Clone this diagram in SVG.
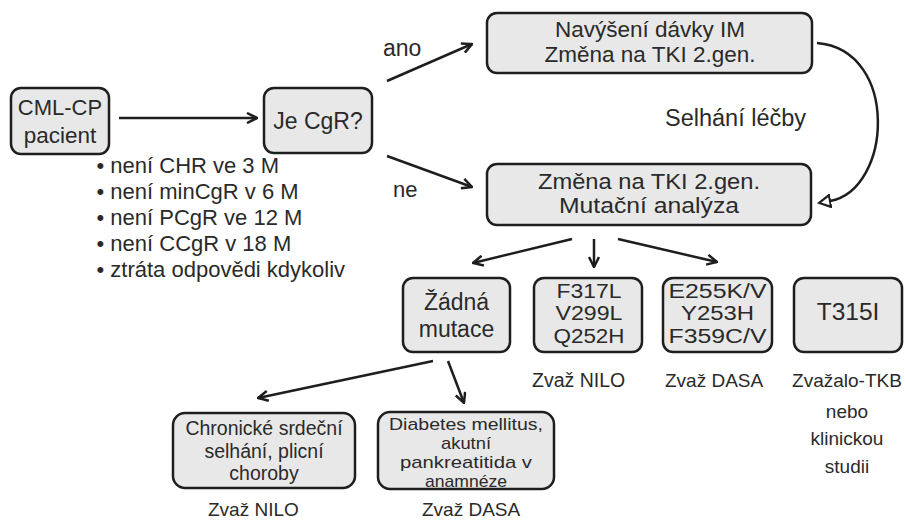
<svg xmlns="http://www.w3.org/2000/svg" width="905" height="520" viewBox="0 0 905 520">
<style>
text{font-family:"Liberation Sans",Arial,sans-serif;fill:#2a2a2a}
.box{fill:#e8e8e8;stroke:#1e1e1e;stroke-width:2.5}
.c{text-anchor:middle}
.ln{fill:none;stroke:#1e1e1e;stroke-width:2.5}
</style>
<defs>
<marker id="arr" viewBox="0 0 12 12" refX="11" refY="6" markerWidth="12" markerHeight="12" markerUnits="userSpaceOnUse" orient="auto"><path d="M1,1 L11,6 L1,11" fill="none" stroke="#1e1e1e" stroke-width="2.5"/></marker>
<marker id="tri" viewBox="0 0 14 14" refX="1" refY="7" markerWidth="14" markerHeight="14" markerUnits="userSpaceOnUse" orient="auto"><path d="M1,1 L12,7 L1,13 Z" fill="#fff" stroke="#1e1e1e" stroke-width="2.2"/></marker>
</defs>
<rect width="905" height="520" fill="#fff"/>
<g id="connectors">
<line class="ln" x1="119" y1="118" x2="257" y2="118" marker-end="url(#arr)"/>
<line class="ln" x1="387" y1="81" x2="472" y2="44" marker-end="url(#arr)"/>
<line class="ln" x1="387" y1="156" x2="472" y2="187" marker-end="url(#arr)"/>
<path class="ln" d="M817,43 C900,50 892,190 830,201" marker-end="url(#tri)"/>
<line class="ln" x1="572" y1="239" x2="473" y2="263" marker-end="url(#arr)"/>
<line class="ln" x1="594" y1="239" x2="594" y2="267" marker-end="url(#arr)"/>
<line class="ln" x1="618" y1="239" x2="717" y2="262" marker-end="url(#arr)"/>
<line class="ln" x1="433" y1="361" x2="258" y2="398" marker-end="url(#arr)"/>
<line class="ln" x1="448" y1="361" x2="464" y2="403" marker-end="url(#arr)"/>
</g>
<g id="labels">
<text x="383" y="56" font-size="23">ano</text>
<text x="393" y="197" font-size="22">ne</text>
<text x="665" y="126" font-size="23.5">Selhání léčby</text>
</g>
<g id="n-cml">
<rect class="box" x="11" y="88" width="98" height="66" rx="10"/>
<text class="c" x="60" y="115" font-size="22">CML-CP</text>
<text class="c" x="60" y="143" font-size="22.5">pacient</text>
</g>
<g id="n-criteria">
<text x="96.5" y="173" font-size="22">• není CHR ve 3 M</text>
<text x="96.5" y="199" font-size="22">• není minCgR v 6 M</text>
<text x="96.5" y="225" font-size="22">• není PCgR ve 12 M</text>
<text x="96.5" y="251" font-size="22">• není CCgR v 18 M</text>
<text x="96.5" y="277" font-size="22">• ztráta odpovědi kdykoliv</text>
</g>
<g id="n-cgr">
<rect class="box" x="264" y="88" width="108" height="65" rx="10"/>
<text class="c" x="318" y="129" font-size="23">Je CgR?</text>
</g>
<g id="n-navyseni">
<rect class="box" x="487" y="13" width="325" height="60" rx="10"/>
<text class="c" x="650" y="36.5" font-size="22.5">Navýšení dávky IM</text>
<text class="c" x="650" y="62" font-size="22.5">Změna na TKI 2.gen.</text>
</g>
<g id="n-zmena">
<rect class="box" x="487" y="164" width="324" height="61" rx="10"/>
<text class="c" x="649" y="189" font-size="21.5" textLength="222" lengthAdjust="spacingAndGlyphs">Změna na TKI 2.gen.</text>
<text class="c" x="649" y="213" font-size="21.5" textLength="180" lengthAdjust="spacingAndGlyphs">Mutační analýza</text>
</g>
<g id="n-zadna">
<rect class="box" x="403" y="278" width="107" height="74" rx="10"/>
<text class="c" x="456.5" y="310" font-size="23">Žádná</text>
<text class="c" x="456.5" y="337" font-size="23">mutace</text>
</g>
<g id="n-f317l">
<rect class="box" x="534" y="278" width="108" height="74" rx="10"/>
<text class="c" x="589" y="297.5" font-size="20.5" textLength="65" lengthAdjust="spacingAndGlyphs">F317L</text>
<text class="c" x="589" y="320" font-size="20.5" textLength="67" lengthAdjust="spacingAndGlyphs">V299L</text>
<text class="c" x="589" y="342.5" font-size="20.5" textLength="71" lengthAdjust="spacingAndGlyphs">Q252H</text>
<text x="532" y="387" font-size="19.5">Zvaž NILO</text>
</g>
<g id="n-e255">
<rect class="box" x="663" y="278" width="109" height="74" rx="10"/>
<text class="c" x="717.5" y="297.5" font-size="20.5" textLength="98" lengthAdjust="spacingAndGlyphs">E255K/V</text>
<text class="c" x="717.5" y="320" font-size="20.5" textLength="73" lengthAdjust="spacingAndGlyphs">Y253H</text>
<text class="c" x="717.5" y="342.5" font-size="20.5" textLength="98" lengthAdjust="spacingAndGlyphs">F359C/V</text>
<text x="665" y="387" font-size="19">Zvaž DASA</text>
</g>
<g id="n-t315i">
<rect class="box" x="794" y="278" width="108" height="74" rx="10"/>
<text class="c" x="848" y="320" font-size="24.5">T315I</text>
<text class="c" x="847" y="387" font-size="19">Zvažalo-TKB</text>
<text class="c" x="847" y="418" font-size="19">nebo</text>
<text class="c" x="847" y="445" font-size="19">klinickou</text>
<text class="c" x="847" y="473" font-size="19">studii</text>
</g>
<g id="n-chronicke">
<rect class="box" x="173" y="413" width="182" height="75" rx="12"/>
<text class="c" x="264" y="435" font-size="19.5">Chronické srdeční</text>
<text class="c" x="264" y="457.5" font-size="19.5">selhání, plicní</text>
<text class="c" x="264" y="480" font-size="19.5">choroby</text>
<text x="208" y="516" font-size="19">Zvaž NILO</text>
</g>
<g id="n-diabetes">
<rect class="box" x="378" y="412" width="176" height="77" rx="12"/>
<text class="c" x="466" y="429.5" font-size="17" textLength="154" lengthAdjust="spacingAndGlyphs">Diabetes mellitus,</text>
<text class="c" x="466" y="448.5" font-size="17" textLength="50" lengthAdjust="spacingAndGlyphs">akutní</text>
<text class="c" x="466" y="467.5" font-size="17" textLength="132" lengthAdjust="spacingAndGlyphs">pankreatitida v</text>
<text class="c" x="466" y="486.5" font-size="17" textLength="82" lengthAdjust="spacingAndGlyphs">anamnéze</text>
<text x="422" y="516" font-size="19">Zvaž DASA</text>
</g>
</svg>
